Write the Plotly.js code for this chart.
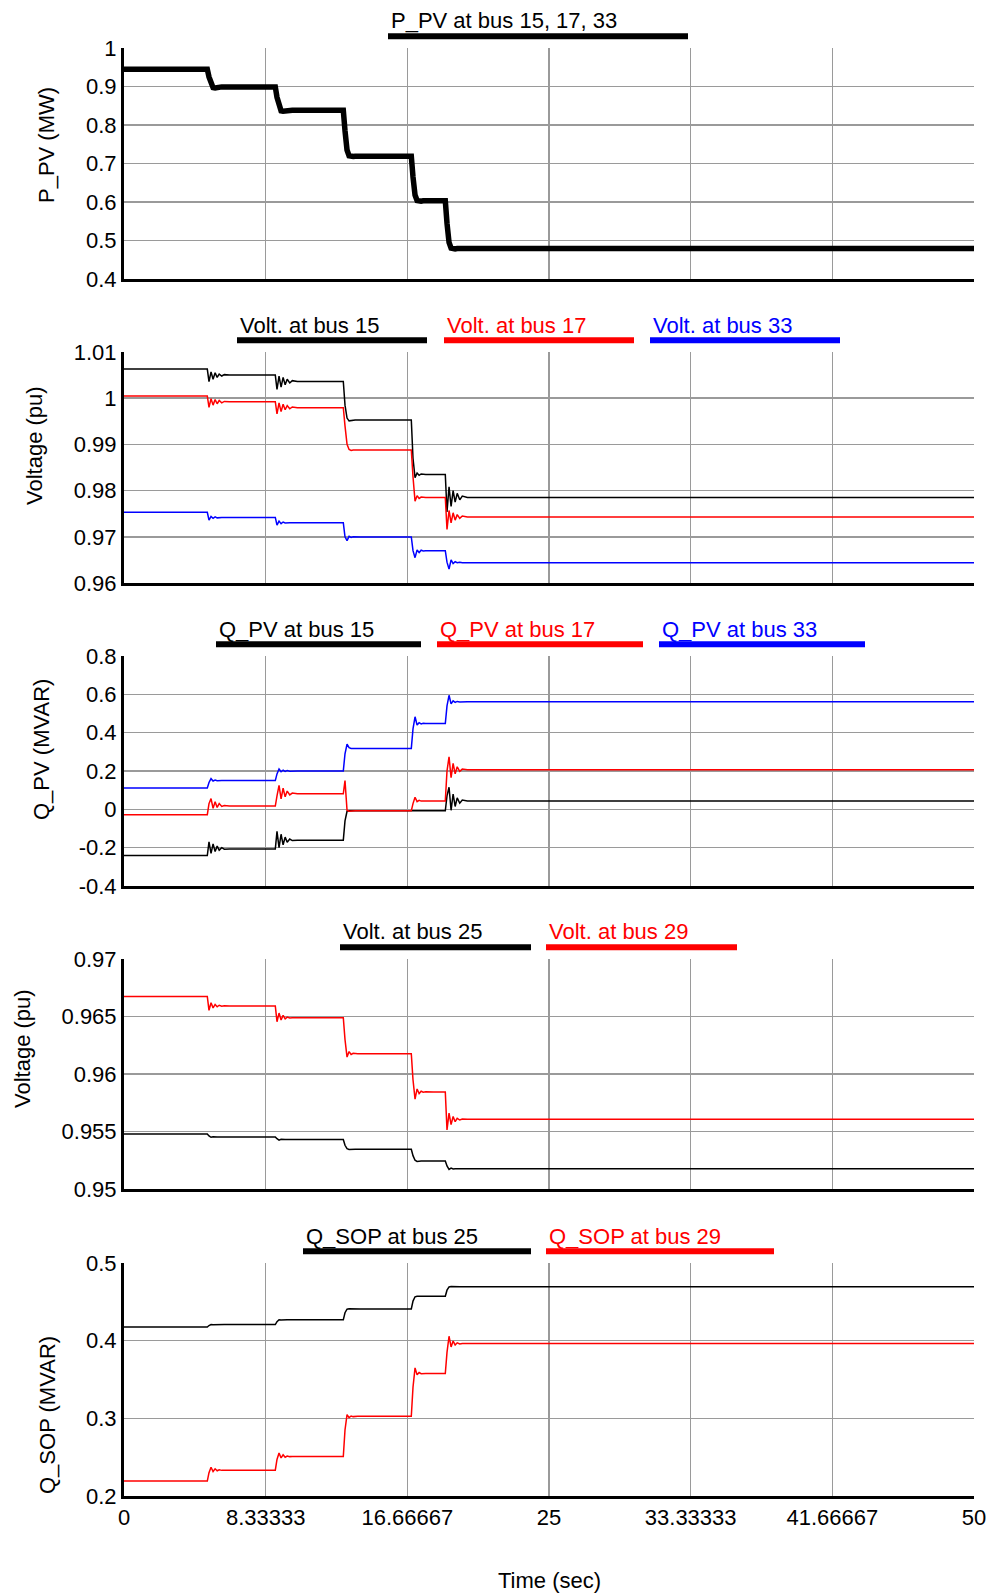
<!DOCTYPE html>
<html>
<head>
<meta charset="utf-8">
<script src="https://cdn.plot.ly/plotly-3.0.1.min.js"></script>
<style>html,body{margin:0;padding:0;background:#fff;}#chart{width:992px;height:1595px;}</style>
</head>
<body>
<div id="chart"></div>
<script>
// ---------- data ----------
const t = [0,
  4.9, 5.0, 5.12, 5.24, 5.36, 5.48, 5.6, 5.75, 5.9, 6.2,
  8.9, 9.0, 9.12, 9.24, 9.36, 9.48, 9.6, 9.75, 9.9, 10.2,
  12.9, 13.0, 13.12, 13.24, 13.36, 13.48, 13.6, 13.75, 13.9, 14.2,
  16.9, 17.0, 17.12, 17.24, 17.36, 17.48, 17.6, 17.75, 17.9, 18.2,
  18.9, 19.0, 19.12, 19.24, 19.36, 19.48, 19.6, 19.75, 19.9, 20.2,
  50];

const pPV = [0.945,
  0.945, 0.925, 0.905, 0.897, 0.896, 0.898, 0.899, 0.899, 0.899, 0.899,
  0.899, 0.872, 0.846, 0.837, 0.836, 0.837, 0.838, 0.838, 0.838, 0.838,
  0.838, 0.785, 0.735, 0.720, 0.717, 0.718, 0.719, 0.719, 0.719, 0.719,
  0.719, 0.665, 0.618, 0.604, 0.601, 0.602, 0.603, 0.603, 0.603, 0.603,
  0.603, 0.545, 0.495, 0.480, 0.477, 0.478, 0.479, 0.479, 0.479, 0.479,
  0.479];

const v15 = [1.0063,
  1.0063, 1.0036, 1.0057, 1.0041, 1.0055, 1.0045, 1.0052, 1.0048, 1.0051, 1.0050,
  1.0050, 1.0019, 1.0048, 1.0024, 1.0045, 1.0029, 1.0041, 1.0033, 1.0038, 1.0036,
  1.0036, 0.9985, 0.9957, 0.9951, 0.9952, 0.9953, 0.9953, 0.9953, 0.9953, 0.9953,
  0.9953, 0.9870, 0.9828, 0.9838, 0.9833, 0.9836, 0.9835, 0.9835, 0.9835, 0.9835,
  0.9835, 0.9754, 0.9808, 0.9766, 0.9800, 0.9775, 0.9794, 0.9780, 0.9788, 0.9785,
  0.9785];

const v17 = [1.0005,
  1.0005, 0.9980, 0.9999, 0.9985, 0.9997, 0.9988, 0.9995, 0.9990, 0.9993, 0.99925,
  0.99925, 0.9966, 0.9990, 0.9971, 0.9987, 0.9975, 0.9984, 0.9977, 0.9981, 0.99795,
  0.99795, 0.9940, 0.9900, 0.9889, 0.9887, 0.9888, 0.9888, 0.9888, 0.9888, 0.9888,
  0.9888, 0.9830, 0.9777, 0.9789, 0.9783, 0.9786, 0.9785, 0.9785, 0.9785, 0.9785,
  0.9785, 0.9716, 0.9757, 0.9730, 0.9752, 0.9736, 0.9748, 0.9740, 0.9745, 0.9743,
  0.9743];

const v33 = [0.9753,
  0.9753, 0.9736, 0.9744, 0.9740, 0.9743, 0.9741, 0.9742, 0.9742, 0.9742, 0.9742,
  0.9742, 0.97253, 0.9734, 0.97285, 0.9732, 0.9730, 0.97308, 0.97305, 0.97305, 0.97305,
  0.97305, 0.9700, 0.96916, 0.9701, 0.96985, 0.9700, 0.96995, 0.96996, 0.96996, 0.96996,
  0.96996, 0.9670, 0.96548, 0.96714, 0.9666, 0.9671, 0.96695, 0.9670, 0.9670, 0.9670,
  0.9670, 0.9645, 0.9630, 0.9650, 0.9642, 0.9646, 0.9644, 0.9645, 0.9644, 0.9644,
  0.9644];

const q15 = [-0.241,
  -0.241, -0.170, -0.230, -0.180, -0.220, -0.192, -0.213, -0.200, -0.208, -0.207,
  -0.207, -0.115, -0.200, -0.130, -0.185, -0.145, -0.172, -0.155, -0.163, -0.161,
  -0.161, -0.060, -0.010, -0.008, -0.008, -0.008, -0.008, -0.008, -0.008, -0.008,
  -0.008, -0.008, -0.008, -0.008, -0.008, -0.008, -0.008, -0.008, -0.008, -0.008,
  -0.008, 0.070, 0.115, -0.005, 0.080, 0.015, 0.060, 0.032, 0.048, 0.044,
  0.044];

const q17 = [-0.028,
  -0.028, 0.030, 0.056, 0.005, 0.040, 0.010, 0.030, 0.015, 0.020, 0.017,
  0.017, 0.070, 0.125, 0.055, 0.110, 0.065, 0.095, 0.075, 0.085, 0.081,
  0.081, 0.150, -0.005, -0.010, -0.008, -0.008, -0.008, -0.008, -0.008, -0.008,
  -0.008, 0.030, 0.063, 0.040, 0.047, 0.043, 0.045, 0.044, 0.044, 0.044,
  0.044, 0.200, 0.274, 0.165, 0.240, 0.185, 0.222, 0.198, 0.210, 0.207,
  0.207];

const q33 = [0.111,
  0.111, 0.140, 0.160, 0.148, 0.153, 0.149, 0.151, 0.150, 0.150, 0.150,
  0.150, 0.185, 0.210, 0.196, 0.204, 0.198, 0.202, 0.199, 0.200, 0.200,
  0.200, 0.290, 0.340, 0.322, 0.318, 0.320, 0.318, 0.318, 0.318, 0.318,
  0.318, 0.420, 0.483, 0.440, 0.452, 0.446, 0.449, 0.448, 0.448, 0.448,
  0.448, 0.540, 0.595, 0.550, 0.566, 0.558, 0.563, 0.560, 0.561, 0.561,
  0.561];

const v25 = [0.95479,
  0.95479, 0.95462, 0.95450, 0.95455, 0.95452, 0.95453, 0.95453, 0.95453, 0.95453, 0.95453,
  0.95453, 0.95437, 0.95425, 0.95432, 0.95429, 0.95430, 0.95430, 0.95430, 0.95430, 0.95430,
  0.95430, 0.95380, 0.95350, 0.95343, 0.95345, 0.95345, 0.95345, 0.95345, 0.95345, 0.95345,
  0.95345, 0.95290, 0.95250, 0.95240, 0.95244, 0.95243, 0.95243, 0.95243, 0.95243, 0.95243,
  0.95243, 0.95200, 0.95170, 0.95182, 0.95174, 0.95177, 0.95176, 0.95176, 0.95176, 0.95176,
  0.95176];

const v29 = [0.96675,
  0.96675, 0.96554, 0.96620, 0.96575, 0.96605, 0.96585, 0.96598, 0.96590, 0.96593, 0.96592,
  0.96592, 0.96454, 0.96530, 0.96470, 0.96510, 0.96480, 0.96495, 0.96487, 0.96490, 0.96489,
  0.96489, 0.96300, 0.96147, 0.96195, 0.96170, 0.96180, 0.96176, 0.96177, 0.96177, 0.96177,
  0.96177, 0.95950, 0.95781, 0.95870, 0.95830, 0.95850, 0.95842, 0.95845, 0.95844, 0.95844,
  0.95844, 0.95514, 0.95660, 0.95560, 0.95630, 0.95585, 0.95615, 0.95600, 0.95608, 0.95607,
  0.95607];

const qsop25 = [0.4176,
  0.4176, 0.4195, 0.4208, 0.4205, 0.4207, 0.4207, 0.4207, 0.4207, 0.4207, 0.4207,
  0.4207, 0.4245, 0.4270, 0.4265, 0.4268, 0.4268, 0.4268, 0.4268, 0.4268, 0.4268,
  0.4268, 0.4360, 0.4405, 0.4410, 0.4408, 0.4408, 0.4408, 0.4408, 0.4408, 0.4408,
  0.4408, 0.4510, 0.4565, 0.4573, 0.4571, 0.4571, 0.4571, 0.4571, 0.4571, 0.4571,
  0.4571, 0.4650, 0.4692, 0.4696, 0.4693, 0.4693, 0.4693, 0.4693, 0.4693, 0.4693,
  0.4693];

const qsop29 = [0.2192,
  0.2192, 0.2300, 0.2370, 0.2315, 0.2350, 0.2325, 0.2338, 0.2330, 0.2334, 0.2333,
  0.2333, 0.2470, 0.2554, 0.2490, 0.2530, 0.2500, 0.2515, 0.2507, 0.2510, 0.2509,
  0.2509, 0.2850, 0.3047, 0.3010, 0.3030, 0.3022, 0.3027, 0.3026, 0.3026, 0.3026,
  0.3026, 0.3400, 0.3650, 0.3560, 0.3590, 0.3575, 0.3580, 0.3578, 0.3578, 0.3578,
  0.3578, 0.3850, 0.4057, 0.3920, 0.3995, 0.3945, 0.3972, 0.3958, 0.3964, 0.3962,
  0.3962];

const xTickVals = [0, 8.33333, 16.66667, 25, 33.33333, 41.66667, 50];
const xTickText = ["0", "8.33333", "16.66667", "25", "33.33333", "41.66667", "50"];

const y1Ticks = [0.4, 0.5, 0.6, 0.7, 0.8, 0.9, 1];
const y1Text = ["0.4", "0.5", "0.6", "0.7", "0.8", "0.9", "1"];
const y2Ticks = [0.96, 0.97, 0.98, 0.99, 1, 1.01];
const y2Text = ["0.96", "0.97", "0.98", "0.99", "1", "1.01"];
const y3Ticks = [-0.4, -0.2, 0, 0.2, 0.4, 0.6, 0.8];
const y3Text = ["-0.4", "-0.2", "0", "0.2", "0.4", "0.6", "0.8"];
const y4Ticks = [0.95, 0.955, 0.96, 0.965, 0.97];
const y4Text = ["0.95", "0.955", "0.96", "0.965", "0.97"];
const y5Ticks = [0.2, 0.3, 0.4, 0.5];
const y5Text = ["0.2", "0.3", "0.4", "0.5"];

const yTitles = ["P_PV (MW)", "Voltage (pu)", "Q_PV (MVAR)", "Voltage (pu)", "Q_SOP (MVAR)"];
const legendNames = [
  ["P_PV at bus 15, 17, 33"],
  ["Volt. at bus 15", "Volt. at bus 17", "Volt. at bus 33"],
  ["Q_PV at bus 15", "Q_PV at bus 17", "Q_PV at bus 33"],
  ["Volt. at bus 25", "Volt. at bus 29"],
  ["Q_SOP at bus 25", "Q_SOP at bus 29"]
];
const xTitle = "Time (sec)";

// ---------- layout geometry ----------
const W = 992, H = 1595;
const L = 124, R = 18, T = 48, B = 99;
const plotW = W - L - R, plotH = H - T - B;
const FONT = "Liberation Sans, Arial, sans-serif";
const TICK_SIZE = 22, TEXT_SIZE = 22;
const BLACK = "#000000", RED = "#ff0000", BLUE = "#0000ff";
const colors = [BLACK, RED, BLUE];

// pixel panel boxes (top, bottom)
const panels = [[48, 279], [352, 583], [656, 886], [959, 1189], [1263, 1496]];
const py2paper = py => (T + plotH - py) / plotH;
const px2paper = px => (px - L) / plotW;

// legend bar pixel extents
const legendBars = [
  [[388, 688]],
  [[237, 427], [444, 634], [650, 840]],
  [[216, 421], [437, 643], [659, 865]],
  [[340, 531], [546, 737]],
  [[303, 531], [546, 774]]
];
const yTitlePos = [[47, 145], [34, 446], [41, 750], [22, 1049], [47, 1415]];

const yTickSets = [[y1Ticks, y1Text], [y2Ticks, y2Text], [y3Ticks, y3Text], [y4Ticks, y4Text], [y5Ticks, y5Text]];

const series = [
  [[pPV, BLACK, 5.5]],
  [[v15, BLACK, 1.5], [v17, RED, 1.5], [v33, BLUE, 1.5]],
  [[q15, BLACK, 1.5], [q17, RED, 1.5], [q33, BLUE, 1.5]],
  [[v25, BLACK, 1.5], [v29, RED, 1.5]],
  [[qsop25, BLACK, 1.5], [qsop29, RED, 1.5]]
];

const data = [];
const layout = {
  width: W, height: H,
  margin: {l: L, r: R, t: T, b: B, pad: 0},
  paper_bgcolor: "#ffffff", plot_bgcolor: "#ffffff",
  showlegend: false,
  font: {family: FONT, size: TICK_SIZE, color: "#000"},
  annotations: [], shapes: []
};

panels.forEach((pb, i) => {
  const n = i + 1;
  const xa = "x" + (n === 1 ? "" : n), ya = "y" + (n === 1 ? "" : n);
  series[i].forEach(s => {
    data.push({x: t, y: s[0], type: "scatter", mode: "lines", xaxis: xa, yaxis: ya,
      line: {color: s[1], width: s[2]}, hoverinfo: "skip"});
  });
  const ticks = yTickSets[i];
  layout["xaxis" + (n === 1 ? "" : n)] = {
    domain: [0, 1], anchor: ya, range: [0, 50],
    tickmode: "array", tickvals: xTickVals, ticktext: xTickText,
    showticklabels: n === 5, ticks: "",
    tickfont: {family: FONT, size: TICK_SIZE, color: "#000"},
    showgrid: true, gridcolor: "#9a9a9a", gridwidth: 1.5,
    zeroline: false, showline: true, linecolor: "#000", linewidth: 3,
    fixedrange: true
  };
  layout["yaxis" + (n === 1 ? "" : n)] = {
    domain: [py2paper(pb[1]), py2paper(pb[0])], anchor: xa,
    range: [ticks[0][0], ticks[0][ticks[0].length - 1]],
    tickmode: "array", tickvals: ticks[0], ticktext: ticks[1], ticks: "",
    tickfont: {family: FONT, size: TICK_SIZE, color: "#000"},
    showgrid: true, gridcolor: "#9a9a9a", gridwidth: 1.5,
    zeroline: false, showline: true, linecolor: "#000", linewidth: 3,
    fixedrange: true
  };
  // y title
  layout.annotations.push({
    xref: "paper", yref: "paper", x: px2paper(yTitlePos[i][0]), y: py2paper(yTitlePos[i][1]),
    text: yTitles[i], showarrow: false, textangle: -90, xanchor: "center", yanchor: "middle",
    font: {family: FONT, size: TEXT_SIZE, color: "#000"}
  });
  // legend entries
  legendNames[i].forEach((name, k) => {
    const bar = legendBars[i][k];
    const col = colors[k];
    layout.shapes.push({
      type: "rect", xref: "paper", yref: "paper",
      x0: px2paper(bar[0]), x1: px2paper(bar[1]),
      y0: py2paper(pb[0] - 8.7), y1: py2paper(pb[0] - 14.7),
      fillcolor: col, line: {width: 0}
    });
    layout.annotations.push({
      xref: "paper", yref: "paper", x: px2paper(bar[0] + 1), y: py2paper(pb[0] - 27),
      text: name, showarrow: false, xanchor: "left", yanchor: "middle",
      font: {family: FONT, size: TEXT_SIZE, color: col}
    });
  });
});

layout.annotations.push({
  xref: "paper", yref: "paper", x: px2paper(549), y: py2paper(1580),
  text: xTitle, showarrow: false, xanchor: "center", yanchor: "middle",
  font: {family: FONT, size: TEXT_SIZE, color: "#000"}
});

Plotly.newPlot("chart", data, layout, {staticPlot: true, displayModeBar: false});
</script>
</body>
</html>
